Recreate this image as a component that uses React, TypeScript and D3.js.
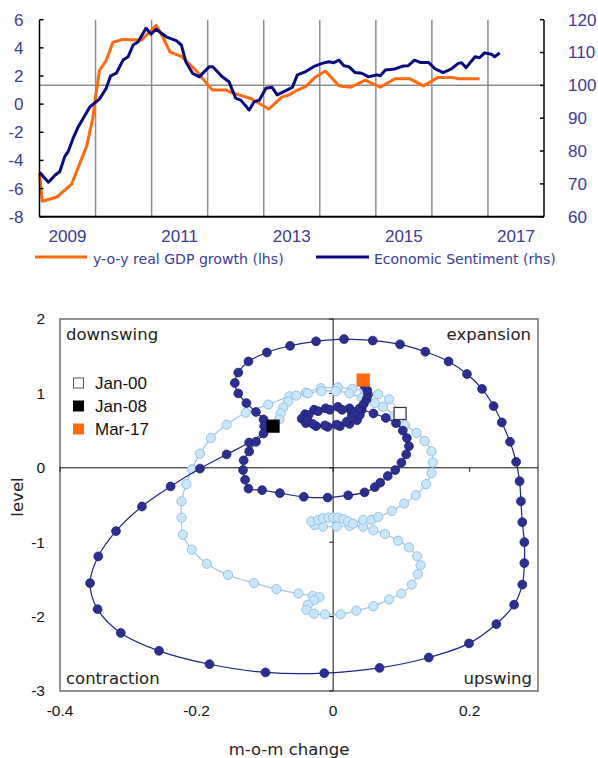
import React from "react";
import * as d3 from "d3";

// ---------- Top chart data ----------
const gdpT = [2009.0, 2009.05, 2009.31, 2009.57, 2009.84, 2009.95, 2010.0, 2010.07, 2010.19, 2010.31, 2010.49, 2010.82, 2010.93, 2011.08, 2011.17, 2011.33, 2011.53, 2011.79, 2012.06, 2012.09, 2012.33, 2012.44, 2012.77, 2013.09, 2013.32, 2013.45, 2013.6, 2013.75, 2013.9, 2014.1, 2014.34, 2014.55, 2014.81, 2015.08, 2015.34, 2015.61, 2015.85, 2016.11, 2016.35, 2016.47, 2016.85];
const gdpV = [-4.9, -6.9, -6.6, -5.7, -3.0, -1.0, 0.5, 2.4, 3.1, 4.4, 4.6, 4.55, 5.0, 5.6, 5.0, 3.7, 3.4, 2.4, 1.1, 1.0, 1.0, 0.8, 0.4, -0.35, 0.5, 0.65, 1.0, 1.25, 1.85, 2.35, 1.3, 1.2, 1.7, 1.2, 1.8, 1.8, 1.3, 1.9, 1.9, 1.8, 1.8];

const esiT = [2009.0, 2009.16, 2009.28, 2009.36, 2009.45, 2009.51, 2009.6, 2009.68, 2009.9, 2010.07, 2010.19, 2010.27, 2010.37, 2010.49, 2010.58, 2010.67, 2010.76, 2010.9, 2010.99, 2011.08, 2011.26, 2011.44, 2011.53, 2011.61, 2011.73, 2011.85, 2012.03, 2012.09, 2012.26, 2012.38, 2012.5, 2012.59, 2012.74, 2012.83, 2012.92, 2013.04, 2013.15, 2013.24, 2013.36, 2013.51, 2013.6, 2013.75, 2013.89, 2014.04, 2014.16, 2014.25, 2014.34, 2014.43, 2014.52, 2014.63, 2014.75, 2014.87, 2015.02, 2015.08, 2015.17, 2015.34, 2015.49, 2015.58, 2015.69, 2015.79, 2015.94, 2016.06, 2016.2, 2016.35, 2016.47, 2016.53, 2016.61, 2016.77, 2016.85, 2016.94, 2017.06, 2017.12, 2017.21];
const esiV = [73.5, 70.5, 72.7, 73.7, 78.3, 79.8, 83.9, 87.0, 93.5, 95.8, 99.1, 102.9, 103.7, 107.7, 108.7, 112.3, 113.3, 117.4, 115.6, 117.1, 114.8, 113.6, 112.3, 107.2, 103.7, 102.6, 105.7, 105.7, 102.6, 101.1, 96.1, 95.5, 92.5, 95.0, 95.5, 99.1, 99.4, 97.1, 98.1, 99.4, 103.2, 104.2, 105.7, 106.7, 107.2, 106.9, 107.7, 106.0, 105.7, 103.9, 103.7, 102.6, 103.2, 102.9, 104.7, 105.0, 105.9, 106.0, 107.7, 107.0, 107.0, 105.0, 103.9, 105.0, 106.7, 106.9, 105.4, 108.7, 108.4, 109.9, 109.5, 108.7, 109.9];

const leftTicks = [-8, -6, -4, -2, 0, 2, 4, 6];
const rightTicks = [60, 70, 80, 90, 100, 110, 120];
const yearLabels = [2009, 2011, 2013, 2015, 2017];
const gridYears = [2010, 2011, 2012, 2013, 2014, 2015, 2016, 2017];
const refLevel = 100;
const topLegend = ["y-o-y real GDP growth (lhs)", "Economic Sentiment (rhs)"];

// ---------- Bottom chart data ----------
// light: Jan-00 .. Jan-08 ; dark: Jan-08 .. Mar-17
const lightX = [0.098, 0.082, 0.066, 0.046, 0.028, 0.007, -0.018, -0.040, -0.064, -0.095, -0.128, -0.156, -0.179, -0.195, -0.207, -0.215, -0.222, -0.222, -0.220, -0.207, -0.185, -0.154, -0.116, -0.083, -0.051, -0.030, -0.020, -0.028, -0.037, -0.039, -0.028, -0.012, 0.011, 0.034, 0.059, 0.082, 0.100, 0.115, 0.124, 0.128, 0.123, 0.111, 0.095, 0.076, 0.059, 0.044, 0.024, 0.005, -0.015, -0.027, -0.032, -0.022, -0.015, -0.007, 0.0, 0.007, 0.015, 0.022, 0.029, 0.044, 0.056, 0.066, 0.086, 0.104, 0.121, 0.136, 0.144, 0.146, 0.144, 0.134, 0.122, 0.105, 0.090, 0.073, 0.061, 0.042, 0.024, 0.004, -0.017, -0.037, -0.054, -0.066, -0.073, -0.077, -0.079, -0.088];
const lightY = [0.73, 0.92, 0.99, 1.04, 1.06, 1.08, 1.07, 1.01, 0.96, 0.85, 0.74, 0.58, 0.40, 0.19, -0.02, -0.22, -0.45, -0.67, -0.90, -1.10, -1.29, -1.44, -1.55, -1.63, -1.69, -1.72, -1.74, -1.78, -1.84, -1.91, -1.96, -1.97, -1.97, -1.92, -1.86, -1.77, -1.69, -1.57, -1.43, -1.31, -1.19, -1.07, -0.98, -0.89, -0.84, -0.79, -0.78, -0.79, -0.79, -0.77, -0.72, -0.70, -0.68, -0.67, -0.67, -0.67, -0.69, -0.72, -0.75, -0.70, -0.70, -0.66, -0.58, -0.48, -0.37, -0.22, -0.07, 0.07, 0.22, 0.36, 0.47, 0.58, 0.70, 0.82, 0.87, 0.94, 1.00, 1.03, 1.03, 1.00, 0.97, 0.89, 0.81, 0.73, 0.65, 0.56];

const darkX = [-0.088, -0.123, -0.156, -0.195, -0.238, -0.280, -0.318, -0.344, -0.356, -0.345, -0.311, -0.255, -0.181, -0.099, -0.013, 0.068, 0.140, 0.199, 0.239, 0.265, 0.277, 0.280, 0.280, 0.277, 0.275, 0.273, 0.268, 0.259, 0.247, 0.235, 0.218, 0.196, 0.169, 0.135, 0.098, 0.058, 0.016, -0.025, -0.063, -0.097, -0.124, -0.139, -0.144, -0.139, -0.127, -0.113, -0.102, -0.101, -0.102, -0.113, -0.123, -0.131, -0.132, -0.129, -0.124, -0.104, -0.078, -0.043, -0.008, 0.022, 0.046, 0.061, 0.069, 0.080, 0.091, 0.100, 0.107, 0.111, 0.108, 0.102, 0.092, 0.077, 0.059, 0.042, 0.024, 0.007, -0.011, -0.028, -0.041, -0.046, -0.040, -0.025, -0.008, 0.010, 0.024, 0.035, 0.039, 0.027, 0.013, -0.005, -0.022, -0.036, -0.038, -0.030, -0.012, 0.005, 0.020, 0.027, 0.032, 0.039, 0.045, 0.049, 0.051, 0.050, 0.046, 0.044];
const darkY = [0.56, 0.34, 0.18, -0.01, -0.25, -0.52, -0.85, -1.19, -1.55, -1.90, -2.22, -2.46, -2.64, -2.75, -2.76, -2.69, -2.55, -2.36, -2.10, -1.84, -1.57, -1.28, -1.00, -0.73, -0.45, -0.18, 0.08, 0.35, 0.61, 0.83, 1.06, 1.26, 1.43, 1.56, 1.66, 1.71, 1.73, 1.70, 1.64, 1.55, 1.43, 1.28, 1.14, 1.00, 0.87, 0.75, 0.65, 0.56, 0.46, 0.35, 0.22, 0.10, -0.03, -0.16, -0.28, -0.30, -0.34, -0.39, -0.40, -0.37, -0.33, -0.26, -0.20, -0.11, -0.03, 0.07, 0.18, 0.29, 0.40, 0.50, 0.60, 0.67, 0.73, 0.78, 0.80, 0.82, 0.80, 0.78, 0.72, 0.66, 0.60, 0.56, 0.55, 0.56, 0.59, 0.64, 0.71, 0.75, 0.78, 0.78, 0.76, 0.71, 0.64, 0.59, 0.57, 0.58, 0.62, 0.68, 0.75, 0.80, 0.86, 0.92, 0.98, 1.04, 1.10, 1.18];

const xTicks = [-0.4, -0.2, 0, 0.2];
const yTicks = [-3, -2, -1, 0, 1, 2];
const quadrants = ["downswing", "expansion", "contraction", "upswing"];
const markerLabels = ["Jan-00", "Jan-08", "Mar-17"];

const AXIS_BLUE = "#3b3b98";
const ORANGE = "#ff6a0e";
const NAVY = "#0b0b80";
const TICKFONT = "'Liberation Sans', Arial, sans-serif";
const LABFONT = "'DejaVu Sans', sans-serif";

export default function App() {
  // top chart scales
  const xT = d3.scaleLinear().domain([2009, 2018]).range([39.5, 544]);
  const yL = d3.scaleLinear().domain([-8, 6]).range([216.7, 19.7]);
  const yR = d3.scaleLinear().domain([60, 120]).range([216.7, 19.7]);
  const gdpLine = d3.line<number>().x((_, i) => xT(gdpT[i])).y((d) => yL(d));
  const esiLine = d3.line<number>().x((_, i) => xT(esiT[i])).y((d) => yR(d));

  // bottom chart scales
  const x = d3.scaleLinear().domain([-0.4, 0.3]).range([60, 538]);
  const y = d3.scaleLinear().domain([-3, 2]).range([691, 319]);
  const lightLine = d3.line<number>().x((d) => x(d)).y((_, i) => y(lightY[i])).curve(d3.curveCatmullRom);
  const darkLine = d3.line<number>().x((d) => x(d)).y((_, i) => y(darkY[i])).curve(d3.curveCatmullRom);

  const markerData = [
    { v: lightX[0], l: lightY[0], fill: "#ffffff", stroke: "#333" },
    { v: darkX[0], l: darkY[0], fill: "#000000", stroke: "#000" },
    { v: darkX[darkX.length - 1], l: darkY[darkY.length - 1], fill: ORANGE, stroke: ORANGE },
  ];
  const sq = 12;

  return (
    <svg width={598} height={758} style={{ position: "absolute", left: 0, top: 0, background: "#fff" }}>
      {/* ===== TOP CHART ===== */}
      <g>
        {gridYears.map((yr) => (
          <line key={yr} x1={xT(yr)} x2={xT(yr)} y1={yL(6)} y2={yL(-8)} stroke="#8c8c8c" strokeWidth={1.5} />
        ))}
        <line x1={xT(2009)} x2={xT(2018)} y1={yR(refLevel)} y2={yR(refLevel)} stroke="#8c8c8c" strokeWidth={1.5} />
        <path d={gdpLine(gdpV) || ""} fill="none" stroke={ORANGE} strokeWidth={3} strokeLinejoin="round" />
        <path d={esiLine(esiV) || ""} fill="none" stroke={NAVY} strokeWidth={3} strokeLinejoin="round" />
        {/* axes */}
        <line x1={xT(2009)} x2={xT(2009)} y1={yL(6)} y2={yL(-8)} stroke="#000" strokeWidth={1.5} />
        <line x1={xT(2018)} x2={xT(2018)} y1={yL(6)} y2={yL(-8)} stroke="#000" strokeWidth={1.5} />
        <line x1={xT(2009)} x2={xT(2018)} y1={yL(-8)} y2={yL(-8)} stroke="#000" strokeWidth={2} />
        {leftTicks.map((t) => (
          <g key={"l" + t}>
            <line x1={xT(2009)} x2={xT(2009) + 4} y1={yL(t)} y2={yL(t)} stroke="#000" strokeWidth={1.5} />
            <text x={23.5} y={yL(t)} dy="0.35em" textAnchor="end" fontFamily={TICKFONT} fontSize={17} fill={AXIS_BLUE}>{t}</text>
          </g>
        ))}
        {rightTicks.map((t) => (
          <g key={"r" + t}>
            <line x1={xT(2018) - 4} x2={xT(2018)} y1={yR(t)} y2={yR(t)} stroke="#000" strokeWidth={1.5} />
            <text x={568} y={yR(t)} dy="0.35em" textAnchor="start" fontFamily={TICKFONT} fontSize={17} fill={AXIS_BLUE}>{t}</text>
          </g>
        ))}
        {yearLabels.map((yr) => (
          <text key={yr} x={xT(yr + 0.5)} y={236} dy="0.35em" textAnchor="middle" fontFamily={TICKFONT} fontSize={17} fill={AXIS_BLUE}>{yr}</text>
        ))}
        {/* legend */}
        <line x1={35} x2={87} y1={257} y2={257} stroke={ORANGE} strokeWidth={3} />
        <text x={93} y={259} dy="0.35em" fontFamily={LABFONT} fontSize={14.1} fill={AXIS_BLUE}>{topLegend[0]}</text>
        <line x1={316} x2={369} y1={257} y2={257} stroke={NAVY} strokeWidth={3} />
        <text x={374} y={259} dy="0.35em" fontFamily={LABFONT} fontSize={14} fill={AXIS_BLUE}>{topLegend[1]}</text>
      </g>

      {/* ===== BOTTOM CHART ===== */}
      <g>
        <rect x={x(-0.4)} y={y(2)} width={x(0.3) - x(-0.4)} height={y(-3) - y(2)} fill="none" stroke="#6e6e6e" strokeWidth={1.5} />
        <line x1={x(-0.4)} x2={x(0.3)} y1={y(0)} y2={y(0)} stroke="#111" strokeWidth={1} />
        <line x1={x(0)} x2={x(0)} y1={y(2)} y2={y(-3)} stroke="#111" strokeWidth={1} />
        {yTicks.map((t) => (
          <g key={"yt" + t}>
            <line x1={x(0) - 4} x2={x(0)} y1={y(t)} y2={y(t)} stroke="#111" strokeWidth={1} />
            <text x={45} y={y(t)} dy="0.35em" textAnchor="end" fontFamily={TICKFONT} fontSize={15.5} fill="#111">{t}</text>
          </g>
        ))}
        {xTicks.map((t) => (
          <g key={"xt" + t}>
            <line x1={x(t)} x2={x(t)} y1={y(0)} y2={y(0) + 4} stroke="#111" strokeWidth={1} />
            <text x={x(t)} y={711} dy="0.35em" textAnchor="middle" fontFamily={TICKFONT} fontSize={15.5} fill="#111">{t === 0 ? "0" : String(t)}</text>
          </g>
        ))}
        <text x={289} y={749} dy="0.35em" textAnchor="middle" fontFamily={LABFONT} fontSize={16.5} fill="#222">m-o-m change</text>
        <text transform={`translate(17.5,497) rotate(-90)`} dy="0.35em" textAnchor="middle" fontFamily={LABFONT} fontSize={16.5} fill="#222">level</text>

        <text x={66} y={334} dy="0.35em" fontFamily={LABFONT} fontSize={16.5} fill="#222">{quadrants[0]}</text>
        <text x={531} y={334} dy="0.35em" textAnchor="end" fontFamily={LABFONT} fontSize={16.5} fill="#222">{quadrants[1]}</text>
        <text x={66} y={678} dy="0.35em" fontFamily={LABFONT} fontSize={16.5} fill="#222">{quadrants[2]}</text>
        <text x={532} y={678} dy="0.35em" textAnchor="end" fontFamily={LABFONT} fontSize={16.5} fill="#222">{quadrants[3]}</text>

        {/* light series */}
        <path d={lightLine(lightX) || ""} fill="none" stroke="#9cc4e8" strokeWidth={1.2} />
        {lightX.map((v, i) => (
          <circle key={"lp" + i} cx={x(v)} cy={y(lightY[i])} r={4.6} fill="#c9e7fa" stroke="#95c0e5" strokeWidth={1} />
        ))}
        {/* dark series */}
        <path d={darkLine(darkX) || ""} fill="none" stroke="#1f2488" strokeWidth={1.2} />
        {darkX.map((v, i) => (
          <circle key={"dp" + i} cx={x(v)} cy={y(darkY[i])} r={4.4} fill="#2c2f8f" stroke="#1c1f70" strokeWidth={0.8} />
        ))}
        {/* marker squares */}
        {markerData.map((m, i) => (
          <rect key={"m" + i} x={x(m.v) - sq / 2} y={y(m.l) - sq / 2} width={sq} height={sq} fill={m.fill} stroke={m.stroke} strokeWidth={1.2} />
        ))}
        {/* marker legend */}
        {markerLabels.map((lab, i) => (
          <g key={lab}>
            <rect x={73.5} y={383 + i * 23 - 5} width={10} height={10} fill={markerData[i].fill} stroke={i === 0 ? "#555" : markerData[i].fill} strokeWidth={1} />
            <text x={95} y={383 + i * 23} dy="0.35em" fontFamily={TICKFONT} fontSize={17} fill="#111">{lab}</text>
          </g>
        ))}
      </g>
    </svg>
  );
}
